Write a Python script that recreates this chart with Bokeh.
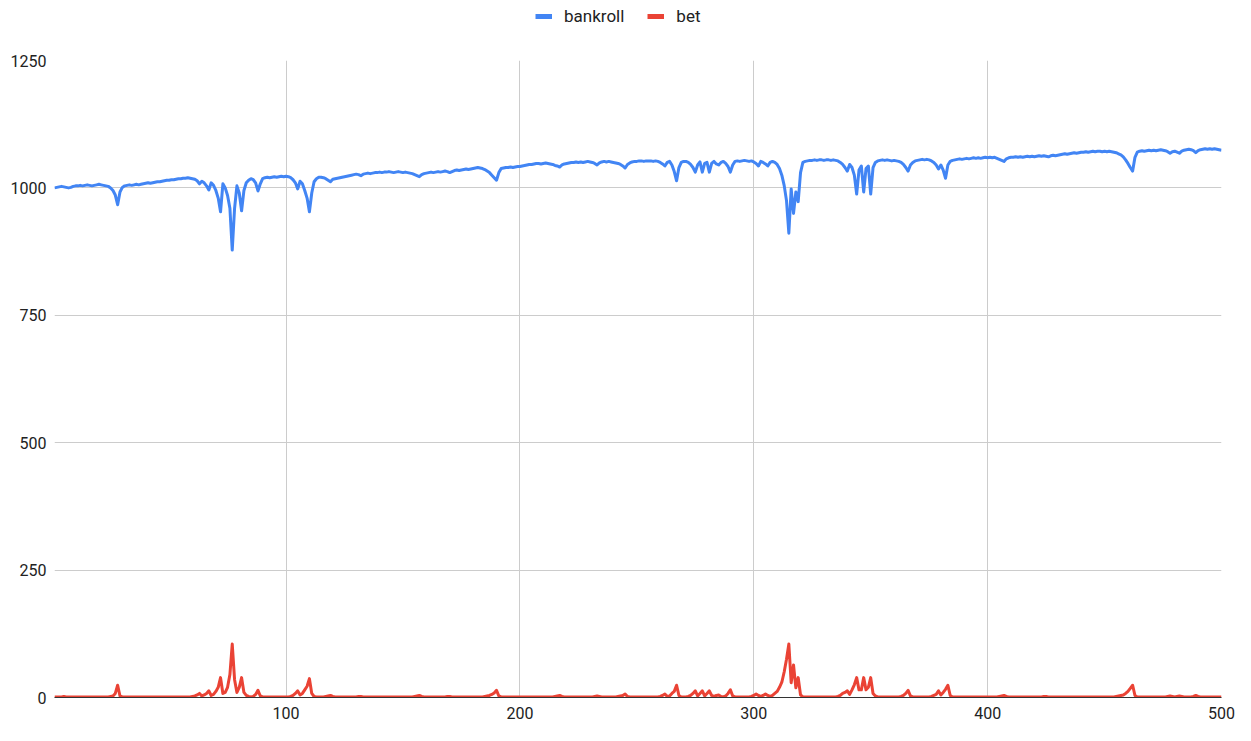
from bokeh.plotting import figure
from bokeh.layouts import column
from bokeh.models import Range1d, Legend, LegendItem, FixedTicker, ColumnDataSource
from bokeh.embed import file_html
from bokeh.resources import INLINE

# ---------------- data ----------------
series_names = ["bankroll", "bet"]
x_ticks = [100, 200, 300, 400, 500]
y_ticks = [0, 250, 500, 750, 1000, 1250]

bankroll = [
    1000, 1001, 1002, 1003, 1002, 1001, 1000, 1001, 1003, 1004,
    1004, 1005, 1004, 1005, 1006, 1005, 1004, 1005, 1006, 1007,
    1006, 1005, 1004, 1003, 1000, 995, 986, 967, 992, 1001,
    1004, 1005, 1006, 1005, 1006, 1007, 1006, 1007, 1008, 1009,
    1010, 1009, 1010, 1011, 1012, 1012, 1013, 1014, 1015, 1015,
    1016, 1016, 1017, 1018, 1018, 1019, 1019, 1020, 1019, 1018,
    1017, 1014, 1008, 1013, 1010, 1004, 996, 1010, 1005, 995,
    980, 953, 1008, 1000, 985, 960, 878, 960, 1004, 990,
    955, 995, 1010, 1015, 1018, 1016, 1010, 994, 1008, 1018,
    1020, 1021, 1020, 1021, 1022, 1021, 1022, 1023, 1022, 1023,
    1022, 1020, 1016, 1010, 998, 1013, 1008, 995, 980, 953,
    990, 1012, 1018, 1021, 1021, 1020, 1018, 1015, 1012, 1017,
    1018, 1019, 1020, 1021, 1022, 1023, 1024, 1025, 1026, 1027,
    1026, 1024, 1027, 1028, 1029, 1028, 1029, 1030, 1030, 1031,
    1030, 1031, 1031, 1032, 1031, 1030, 1031, 1032, 1031, 1030,
    1031, 1030, 1029, 1028, 1026, 1024, 1022, 1026, 1028, 1029,
    1030, 1031, 1030, 1031, 1032, 1031, 1032, 1033, 1032, 1030,
    1032, 1034, 1035, 1034, 1035, 1036, 1037, 1036, 1037, 1038,
    1039, 1040, 1039, 1038, 1036, 1033, 1030, 1025, 1020, 1015,
    1030, 1038, 1039, 1040, 1040, 1041, 1040, 1041, 1042, 1042,
    1043, 1044, 1045, 1046, 1046, 1047, 1048, 1048, 1047, 1048,
    1049, 1048, 1047, 1046, 1044, 1043, 1041, 1045, 1047, 1048,
    1049, 1050, 1050, 1051, 1050, 1051, 1050, 1051, 1052, 1051,
    1050, 1048, 1045, 1049, 1051, 1052, 1051, 1052, 1051, 1050,
    1049, 1048, 1046, 1043, 1039, 1046, 1049, 1051, 1052, 1052,
    1053, 1053, 1052, 1053, 1053, 1053, 1052, 1053, 1052, 1050,
    1047, 1043, 1050, 1052, 1045, 1032, 1014, 1040, 1050, 1052,
    1052, 1050, 1046, 1040, 1031, 1045, 1051, 1031, 1048, 1050,
    1031, 1048, 1052, 1047, 1045, 1050, 1052, 1048, 1042, 1031,
    1045, 1052, 1053, 1052, 1053, 1054, 1053, 1052, 1053, 1051,
    1048, 1043, 1052, 1050, 1047, 1043, 1050, 1052, 1050, 1046,
    1038, 1025, 1005, 975, 911, 998, 950, 992, 973, 1030,
    1050, 1052, 1053, 1054, 1054, 1055, 1054, 1055, 1055, 1054,
    1055, 1055, 1054, 1055, 1054, 1053, 1050, 1046, 1040, 1033,
    1046, 1040, 1025, 988, 1035, 1043, 992, 1038, 1043, 988,
    1040, 1050, 1053, 1054, 1055, 1054, 1055, 1054, 1053, 1054,
    1053, 1052, 1050, 1046, 1040, 1033, 1045, 1050, 1053, 1054,
    1055, 1056, 1055, 1056, 1055, 1053, 1050, 1045, 1037, 1045,
    1035, 1019, 1045, 1052, 1054, 1055, 1056, 1057, 1056, 1057,
    1058, 1057, 1058, 1059, 1058, 1059, 1058, 1059, 1060, 1059,
    1060, 1059, 1060, 1058, 1056, 1054, 1052, 1057, 1059, 1060,
    1060, 1061, 1060, 1061, 1060, 1061, 1062, 1061, 1062, 1061,
    1062, 1063, 1062, 1063, 1062, 1061, 1063, 1064, 1063, 1064,
    1065, 1066, 1067, 1066, 1067, 1068, 1069, 1068, 1069, 1070,
    1070, 1071, 1070, 1071, 1072, 1071, 1072, 1072, 1071, 1072,
    1071, 1072, 1071, 1070, 1069, 1067, 1065, 1061, 1055, 1048,
    1040, 1033, 1060, 1070, 1072, 1073, 1072, 1073, 1074, 1073,
    1074, 1073, 1074, 1075, 1074, 1073, 1071, 1068, 1071, 1072,
    1070, 1068, 1072, 1074, 1075, 1076, 1075, 1073, 1069, 1073,
    1075, 1076, 1077, 1076, 1077, 1076, 1077, 1076, 1075, 1074,
]

bet = [
    1, 1, 1, 1, 2, 1, 1, 1, 1, 1,
    1, 1, 1, 1, 1, 1, 1, 1, 1, 1,
    1, 1, 1, 1, 2, 3, 8, 24, 3, 1,
    1, 1, 1, 1, 1, 1, 1, 1, 1, 1,
    1, 1, 1, 1, 1, 1, 1, 1, 1, 1,
    1, 1, 1, 1, 1, 1, 1, 1, 1, 2,
    3, 5, 8, 3, 5, 8, 13, 4, 6, 12,
    20, 39, 8, 10, 20, 45, 105, 35, 10, 20,
    39, 10, 4, 2, 1, 2, 6, 14, 3, 1,
    1, 1, 1, 1, 1, 1, 1, 1, 1, 1,
    1, 2, 4, 8, 13, 5, 8, 15, 22, 37,
    8, 2, 1, 1, 1, 1, 2, 3, 4, 2,
    1, 1, 1, 1, 1, 1, 1, 1, 1, 1,
    2, 2, 1, 1, 1, 1, 1, 1, 1, 1,
    1, 1, 1, 1, 1, 1, 1, 1, 1, 1,
    1, 1, 1, 1, 2, 3, 4, 2, 1, 1,
    1, 1, 1, 1, 1, 1, 1, 1, 2, 2,
    1, 1, 1, 1, 1, 1, 1, 1, 1, 1,
    1, 1, 1, 1, 2, 3, 4, 6, 9, 14,
    3, 1, 1, 1, 1, 1, 1, 1, 1, 1,
    1, 1, 1, 1, 1, 1, 1, 1, 1, 1,
    1, 1, 1, 1, 2, 3, 4, 2, 1, 1,
    1, 1, 1, 1, 1, 1, 1, 1, 1, 1,
    1, 2, 3, 2, 1, 1, 1, 1, 1, 1,
    1, 2, 3, 4, 7, 2, 1, 1, 1, 1,
    1, 1, 1, 1, 1, 1, 1, 1, 1, 2,
    4, 7, 2, 3, 8, 12, 24, 4, 1, 1,
    1, 2, 4, 8, 13, 3, 8, 13, 3, 8,
    13, 4, 2, 4, 5, 2, 1, 3, 8, 15,
    3, 1, 1, 1, 1, 1, 1, 1, 2, 4,
    7, 4, 2, 4, 7, 4, 2, 4, 8, 12,
    20, 30, 50, 75, 105, 29, 64, 19, 39, 5,
    1, 1, 1, 1, 1, 1, 1, 1, 1, 1,
    1, 1, 1, 1, 1, 2, 4, 8, 10, 13,
    6, 15, 25, 39, 15, 15, 39, 15, 20, 39,
    8, 3, 1, 1, 1, 1, 1, 1, 1, 1,
    1, 1, 2, 4, 8, 14, 3, 1, 1, 1,
    1, 1, 1, 1, 1, 2, 4, 6, 13, 5,
    10, 16, 24, 4, 1, 1, 1, 1, 1, 1,
    1, 1, 1, 1, 1, 1, 1, 1, 1, 1,
    1, 1, 1, 1, 2, 3, 4, 2, 1, 1,
    1, 1, 1, 1, 1, 1, 1, 1, 1, 1,
    1, 1, 1, 2, 2, 1, 1, 1, 1, 1,
    1, 1, 1, 1, 1, 1, 1, 1, 1, 1,
    1, 1, 1, 1, 1, 1, 1, 1, 1, 1,
    1, 1, 1, 1, 2, 3, 4, 5, 8, 12,
    18, 24, 4, 1, 1, 1, 1, 1, 1, 1,
    1, 1, 1, 1, 1, 1, 2, 3, 2, 1,
    2, 3, 2, 1, 1, 1, 1, 2, 4, 2,
    1, 1, 1, 1, 1, 1, 1, 1, 1, 1,
]

steps = list(range(1, len(bankroll) + 1))

# ---------------- styling ----------------
BLUE = "#4285F4"
RED = "#EA4335"
FONT = "Roboto"
TXT = "#222222"
LEG_H = 30

# ---- legend strip (its own small figure above the chart) ----
lf = figure(width=1235, height=LEG_H, output_backend="svg", toolbar_location=None,
            x_range=Range1d(0, 1), y_range=Range1d(0, 1), min_border=0)
lf.axis.visible = False
lf.grid.visible = False
lf.outline_line_color = None
# swatch renderers sit outside the strip's visible range; only their legend glyphs show
sw_bank = lf.line([-5, -4], [-5, -5], line_color=BLUE, line_width=5)
sw_bet = lf.line([-5, -4], [-5, -5], line_color=RED, line_width=5)
legend = Legend(items=[LegendItem(label=series_names[0], renderers=[sw_bank]),
                       LegendItem(label=series_names[1], renderers=[sw_bet])],
                orientation="horizontal", location=(481, 4),
                padding=0, margin=0, spacing=23, label_standoff=12,
                glyph_width=17, glyph_height=14, label_height=14,
                label_text_font=FONT, label_text_font_size="17px",
                label_text_color=TXT, border_line_color=None,
                background_fill_alpha=0)
lf.add_layout(legend, "center")

# ---- main chart ----
p = figure(width=1235, height=725 - LEG_H, output_backend="svg", toolbar_location=None,
           x_range=Range1d(1, 500), y_range=Range1d(0, 1250),
           min_border_left=54, min_border_right=14,
           min_border_top=60 - LEG_H, min_border_bottom=28)
p.outline_line_color = None
p.background_fill_color = "white"
p.border_fill_color = "white"

src = ColumnDataSource(dict(x=steps, bankroll=bankroll, bet=bet))
p.line("x", "bankroll", source=src, line_color=BLUE, line_width=3, line_join="round")
p.line("x", "bet", source=src, line_color=RED, line_width=3, line_join="round")

p.xaxis.ticker = FixedTicker(ticks=x_ticks)
p.yaxis.ticker = FixedTicker(ticks=y_ticks)
for ax in (p.xaxis[0], p.yaxis[0]):
    ax.major_tick_line_color = None
    ax.minor_tick_line_color = None
    ax.major_tick_out = 0
    ax.major_tick_in = 0
    ax.minor_tick_out = 0
    ax.major_label_text_font = FONT
    ax.major_label_text_font_size = "16px"
    ax.major_label_text_color = TXT
p.xaxis.axis_line_color = "#333333"
p.xaxis.axis_line_width = 1
p.yaxis.axis_line_color = None
p.xaxis.major_label_standoff = 9
p.yaxis.major_label_standoff = 8

p.xgrid.ticker = FixedTicker(ticks=x_ticks)
p.ygrid.ticker = FixedTicker(ticks=y_ticks)
p.xgrid.grid_line_color = "#cccccc"
p.ygrid.grid_line_color = "#cccccc"

layout = column(lf, p, spacing=0)
open("out.html", "w").write(file_html(layout, INLINE))
